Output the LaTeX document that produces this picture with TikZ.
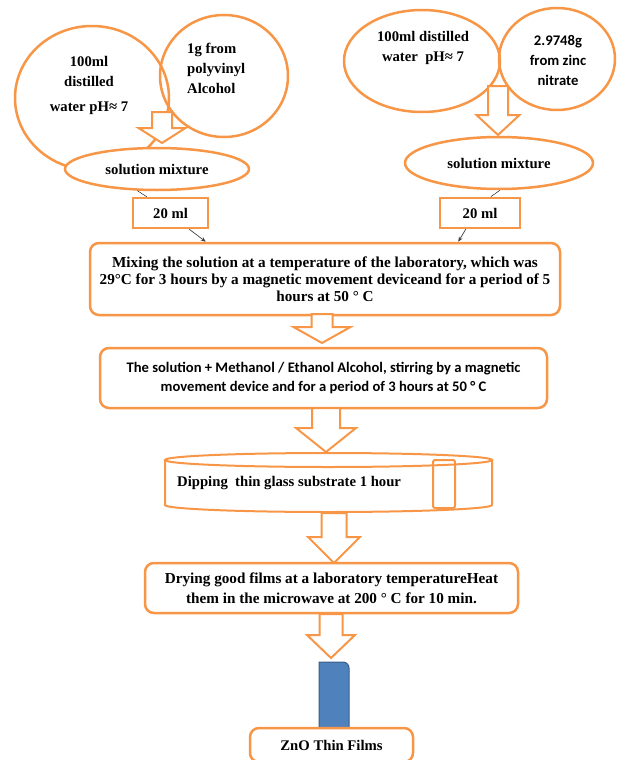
\documentclass[tikz,border=0pt]{standalone}
\usepackage{fontspec}
\setmainfont{Liberation Serif}
\newfontfamily\calfont{Carlito}
\usetikzlibrary{shapes.geometric,arrows.meta}

\definecolor{boxorange}{HTML}{F79646}
\definecolor{filmblue}{HTML}{4F81BD}
\definecolor{filmedge}{HTML}{385D8A}

\tikzset{
	orangeline/.style={draw=boxorange,line width=2.5pt},
	bodytext/.style={font=\fontsize{14.7}{17}\selectfont\bfseries},
	blob/.style={orangeline,ellipse,inner sep=0pt,bodytext},
	circtext/.style={inner sep=0pt,align=center,font=\fontsize{14.7}{20}\selectfont\bfseries},
	mlbox/.style={orangeline,fill=white,minimum height=30,bodytext},
	roundbox/.style={orangeline,fill=white,rounded corners=9pt,align=center,bodytext},
	blockarr/.style={draw=boxorange,line width=2pt,fill=white,line join=miter},
	thinarr/.style={-{Stealth[length=5pt,width=4pt]},black!75,line width=0.7pt}
}

% hollow down arrow: x, shaft top, head base, tip, half shaft, half head
\newcommand{\hollowarrow}[6]{%
	\draw[blockarr] (#1-#5,#2) -- (#1+#5,#2) -- (#1+#5,#3) -- (#1+#6,#3) -- (#1,#4)
		-- (#1-#6,#3) -- (#1-#5,#3) -- cycle;}

\begin{document}
\begin{tikzpicture}[x=1pt,y=-1pt]
	\useasboundingbox (0,0) rectangle (620,760);
	\clip (0,0) rectangle (620,760);
	
	% left solution
	\node[blob,minimum width=154,minimum height=144] (waterL) at (92,98) {};
	\node[blob,minimum width=128,minimum height=122] (pva) at (224,76) {};
	\node[circtext] (waterLtxt) at (89,85) {100ml\\distilled\\[5pt]water pH≈ 7};
	\node[circtext,align=left,anchor=west] (pvatxt) at (187,68) {1g from\\polyvinyl\\Alcohol};
	\hollowarrow{162}{112}{128}{143}{10}{23.5}
	\node[blob,fill=white,minimum width=184,minimum height=42] (mixL) at (157,169) {solution mixture};
	\node[mlbox,minimum width=75] (mlL) at (170.5,213) {20 ml};
	
	% right solution
	\node[blob,minimum width=156,minimum height=102] (waterR) at (422,61) {};
	\node[blob,minimum width=116,minimum height=102] (zinc) at (557,59) {};
	\node[circtext] (waterRtxt) at (423,48) {100ml distilled\\water~~pH≈ 7};
	\node[circtext,font=\fontsize{14.7}{20}\selectfont\calfont\bfseries] (zinctxt) at (558,60) {2.9748g\\from zinc\\nitrate};
	\hollowarrow{498}{86}{115}{135}{10}{21.5}
	\node[blob,fill=white,minimum width=188,minimum height=52] (mixR) at (499,163) {solution mixture};
	\node[mlbox,minimum width=80] (mlR) at (480,213) {20 ml};
	
	% main steps
	\node[roundbox,minimum width=470,minimum height=72,font=\fontsize{15.2}{17}\selectfont\bfseries] (mixing) at (325,279)
		{Mixing the solution at a temperature of the laboratory, which was\\29°C for 3 hours by a magnetic movement deviceand for a period of 5\\hours at 50 ° C};
	\draw (mixL.228) -- ([xshift=15pt]mlL.north west);
	\draw[thinarr] ([xshift=-20pt]mlL.south east) -- ([xshift=117pt]mixing.north west);
	\draw (mixR.272) -- ([xshift=52pt]mlR.north west);
	\draw[thinarr] ([xshift=27pt]mlR.south west) -- ([xshift=-103pt]mixing.north east);
	
	\hollowarrow{322}{314}{327}{343}{10.5}{28.5}
	\node[roundbox,font=\fontsize{14.6}{19}\selectfont\calfont\bfseries,minimum width=447,minimum height=60] (stir) at (323.5,378)
		{The solution + Methanol / Ethanol Alcohol, stirring by a magnetic\\movement device and for a period of 3 hours at 50 ° C};
	\hollowarrow{326}{408}{428}{452}{14}{30}
	
	% dipping vessel
	\draw[orangeline,line width=2pt] (165,460) -- (165,505) arc[start angle=180,end angle=0,x radius=163.5,y radius=7] -- (492,460);
	\draw[orangeline,line width=2pt] (328.5,460) ellipse[x radius=163.5,y radius=7];
	\draw[orangeline,line width=2pt,rounded corners=2pt] (433,460) rectangle (455,508);
	\node[bodytext,anchor=west,inner sep=0pt] (dip) at (177,483) {Dipping~~thin glass substrate 1 hour};
	
	\hollowarrow{334}{513}{537}{563}{12.5}{26}
	\node[roundbox,minimum width=373,minimum height=50,font=\fontsize{15.2}{20}\selectfont\bfseries] (dry) at (331.5,588)
		{Drying good films at a laboratory temperatureHeat\\them in the microwave at 200 ° C for 10 min.};
	\hollowarrow{331}{614}{635}{658}{11.5}{24}
	
	% film
	\draw[fill=filmblue,draw=filmedge,line width=1pt] (319,728) -- (319,662) [rounded corners=6pt] -- (349,662) [sharp corners] -- (349,728) -- cycle;
	\node[roundbox,minimum width=163,minimum height=34] (zno) at (331.5,745) {ZnO Thin Films};
\end{tikzpicture}
\end{document}
